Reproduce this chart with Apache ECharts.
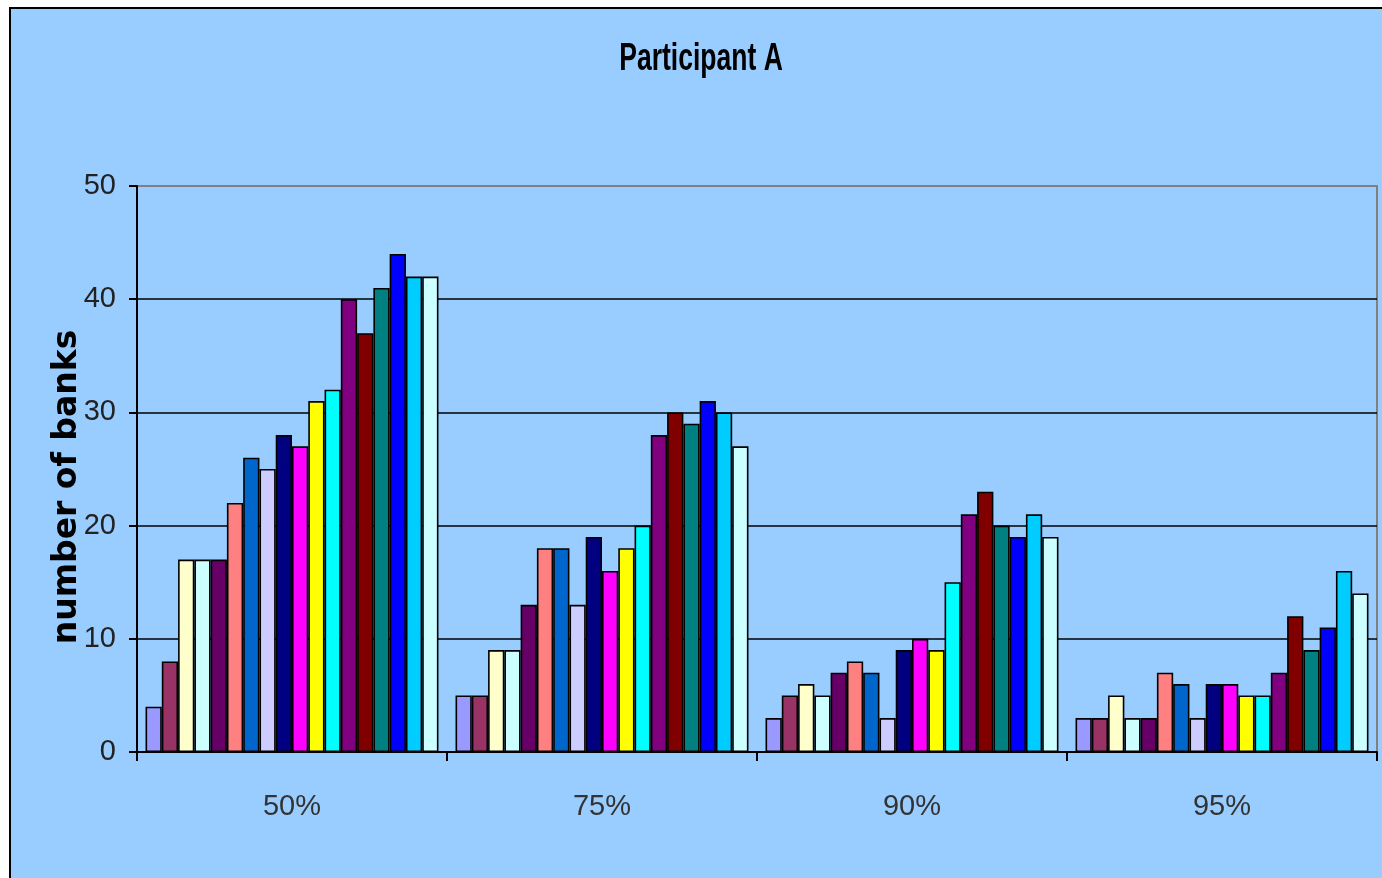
<!DOCTYPE html>
<html>
<head>
<meta charset="utf-8">
<title>Participant A</title>
<script src="https://cdn.jsdelivr.net/npm/echarts@6/dist/echarts.min.js"></script>
<style>
  html, body { margin: 0; padding: 0; background: #ffffff; }
  #chart { width: 1382px; height: 878px; }
</style>
</head>
<body>
<div id="chart"></div>
<script>
// Confidence levels on the category axis
const categories = ['50%', '75%', '90%', '95%'];

// Number of banks per series (18 series) at each confidence level
const level50 = [4, 8, 17, 17, 17, 22, 26, 25, 28, 27, 31, 32, 40, 37, 41, 44, 42, 42];
const level75 = [5, 5, 9, 9, 13, 18, 18, 13, 19, 16, 18, 20, 28, 30, 29, 31, 30, 27];
const level90 = [3, 5, 6, 5, 7, 8, 7, 3, 9, 10, 9, 15, 21, 23, 20, 19, 21, 19];
const level95 = [3, 3, 5, 3, 3, 7, 6, 3, 6, 6, 5, 5, 7, 12, 9, 11, 16, 14];

// Value axis ticks
const yTicks = [0, 10, 20, 30, 40, 50];

// Classic spreadsheet fill palette, one colour per series
const seriesColors = [
  '#9999FF', '#993366', '#FFFFCC', '#CCFFFF', '#660066', '#FF8080',
  '#0066CC', '#CCCCFF', '#000080', '#FF00FF', '#FFFF00', '#00FFFF',
  '#800080', '#800000', '#008080', '#0000FF', '#00CCFF', '#CCFFFF'
];

const levels = [level50, level75, level90, level95];
const series = seriesColors.map((color, i) => ({
  name: 'Series ' + (i + 1),
  type: 'bar',
  data: levels.map(l => l[i]),
  barGap: '0%',
  barCategoryGap: '5.5%',
  itemStyle: { color: color, borderColor: '#000000', borderWidth: 1.6 },
  emphasis: { disabled: true },
  animation: false
}));

const sans = '"Liberation Sans", Arial, sans-serif';

const chart = echarts.init(document.getElementById('chart'), null, { renderer: 'canvas' });
chart.setOption({
  backgroundColor: '#ffffff',
  animation: false,
  graphic: [
    {
      // chart area panel with its frame
      type: 'rect',
      z: -100,
      silent: true,
      shape: { x: 10, y: 8, width: 1400, height: 900 },
      style: { fill: '#99CCFF', stroke: '#000000', lineWidth: 2 }
    },
    {
      // condensed bold heading
      type: 'text',
      x: 701,
      y: 59,
      scaleX: 0.68,
      silent: true,
      style: {
        text: 'Participant A',
        font: 'bold 39px "Liberation Sans", Arial, sans-serif',
        fill: '#000000',
        textAlign: 'center',
        textVerticalAlign: 'middle'
      }
    }
  ],
  grid: {
    left: 137, right: 5, top: 186, bottom: 126,
    show: true, borderColor: '#808080', borderWidth: 2, backgroundColor: 'transparent'
  },
  xAxis: {
    type: 'category',
    data: categories,
    axisLine: { lineStyle: { color: '#000000', width: 2 } },
    axisTick: { show: true, alignWithLabel: false, length: 9, lineStyle: { color: '#000000', width: 2 } },
    axisLabel: { margin: 40, fontFamily: sans, fontSize: 29, color: '#333333' },
    splitLine: { show: false }
  },
  yAxis: {
    type: 'value',
    min: yTicks[0],
    max: yTicks[yTicks.length - 1],
    interval: 10,
    name: 'number of banks',
    nameLocation: 'middle',
    nameGap: 53,
    nameMoveOverlap: false,
    nameTextStyle: {
      fontFamily: '"DejaVu Sans", sans-serif', fontWeight: 'bold', fontSize: 33, color: '#000000',
      padding: [0, 36, 0, 0]
    },
    axisLine: { show: true, lineStyle: { color: '#000000', width: 2 } },
    axisTick: { show: true, length: 8, lineStyle: { color: '#000000', width: 2 } },
    axisLabel: { margin: 21, fontFamily: sans, fontSize: 29, color: '#222222' },
    splitLine: { show: true, lineStyle: { color: ['#000000', '#000000', '#000000', '#000000', '#000000', '#808080'], width: 1.5 } }
  },
  series: series
});
</script>
</body>
</html>
